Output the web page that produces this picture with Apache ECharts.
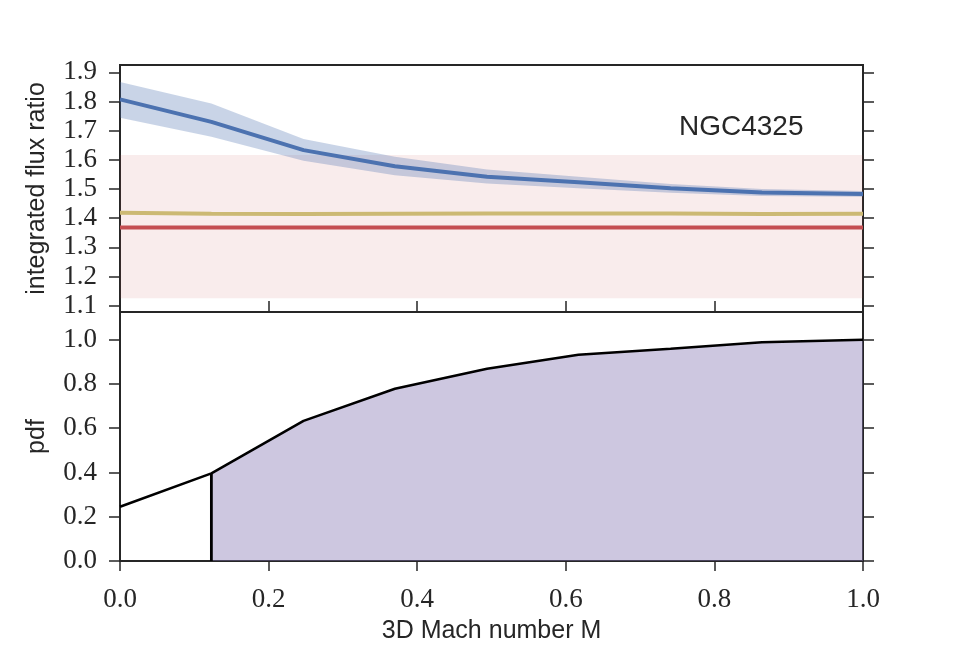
<!DOCTYPE html>
<html>
<head>
    <meta charset="utf-8">
    <title>NGC4325 flux ratio vs Mach number</title>
    <script type="text/javascript" src="https://cdn.jsdelivr.net/npm/echarts@6/dist/echarts.min.js"></script>
    <style>
        html, body { margin: 0; padding: 0; background: #fff; }
    </style>
</head>
<body>
<div id="chartmain" style="width:960px; height:660px;"></div>

<script type="text/javascript">
    // Mach number samples (x) shared by both panels
    var machX = [0, 0.123, 0.247, 0.370, 0.494, 0.617, 0.741, 0.864, 1.0];

    // top panel: model flux ratio with its spread
    var ratioMid = [1.807, 1.730, 1.633, 1.578, 1.542, 1.523, 1.502, 1.488, 1.483];
    var ratioLo  = [1.744, 1.679, 1.597, 1.547, 1.519, 1.502, 1.487, 1.476, 1.473];
    var ratioHi  = [1.867, 1.793, 1.671, 1.610, 1.567, 1.542, 1.517, 1.500, 1.493];
    var ratioAlt = [1.418, 1.415, 1.414, 1.415, 1.416, 1.416, 1.416, 1.414, 1.415];

    // observed ratio and its uncertainty
    var obsX    = [0, 1.0];
    var obsLine = [1.368, 1.368];
    var obsLow  = 1.125;
    var obsHigh = 1.616;

    // bottom panel: pdf
    var pdf = [0.245, 0.396, 0.633, 0.778, 0.869, 0.932, 0.959, 0.988, 1.0];
    var cutIndex = 1;

    // tick labels
    var machTicks  = [0, 0.2, 0.4, 0.6, 0.8, 1.0];
    var ratioTicks = [1.1, 1.2, 1.3, 1.4, 1.5, 1.6, 1.7, 1.8, 1.9];
    var pdfTicks   = [0, 0.2, 0.4, 0.6, 0.8, 1.0];

    var ink = '#262626';
    var serif = 'Liberation Serif';
    var sans = 'Liberation Sans';

    function pairs(xs, ys) {
        return xs.map(function (x, i) { return [x, ys[i]]; });
    }

    var fmt = function (v) { return Number(v).toFixed(1); };

    function yAxisCfg(grid, min, max, ticks, side, name) {
        var a = {
            gridIndex: grid, type: 'value', min: min, max: max, position: side,
            axisLine: {show: true, onZero: false, lineStyle: {color: ink, width: 2}},
            axisTick: {show: true, length: 11, customValues: ticks, lineStyle: {color: ink, width: 1.5}},
            axisLabel: {show: side === 'left', customValues: ticks, formatter: fmt,
                fontFamily: serif, fontSize: 27, color: ink, margin: 23},
            splitLine: {show: false}
        };
        if (name) {
            a.name = name;
            a.nameLocation = 'middle';
            a.nameGap = 70;
            a.nameTextStyle = {fontFamily: sans, fontSize: 25, color: ink};
        }
        return a;
    }

    var option = {
        animation: false,
        backgroundColor: '#fff',
        grid: [
            {left: 120, right: 97, top: 65, height: 247, show: true, borderColor: ink, borderWidth: 2, backgroundColor: 'transparent'},
            {left: 120, right: 97, top: 312, height: 249, show: true, borderColor: ink, borderWidth: 2, backgroundColor: 'transparent'}
        ],
        xAxis: [
            {
                gridIndex: 0, type: 'value', min: 0, max: 1, position: 'bottom',
                axisLine: {show: true, onZero: false, lineStyle: {color: ink, width: 2}},
                axisTick: {show: true, inside: true, length: 11, customValues: machTicks, lineStyle: {color: ink, width: 1.5}},
                axisLabel: {show: false},
                splitLine: {show: false}
            },
            {
                gridIndex: 1, type: 'value', min: 0, max: 1, position: 'bottom',
                axisLine: {show: true, onZero: false, lineStyle: {color: ink, width: 2}},
                axisTick: {show: true, length: 10, customValues: machTicks, lineStyle: {color: ink, width: 1.5}},
                axisLabel: {customValues: machTicks, formatter: fmt, fontFamily: serif, fontSize: 27, color: ink, margin: 25},
                splitLine: {show: false},
                name: '3D Mach number M', nameLocation: 'middle', nameGap: 58,
                nameTextStyle: {fontFamily: sans, fontSize: 25, color: ink}
            }
        ],
        yAxis: [
            yAxisCfg(0, 1.078, 1.925, ratioTicks, 'left', 'integrated flux ratio'),
            yAxisCfg(0, 1.078, 1.925, ratioTicks, 'right'),
            yAxisCfg(1, 0, 1.125, pdfTicks, 'left', 'pdf'),
            yAxisCfg(1, 0, 1.125, pdfTicks, 'right')
        ],
        graphic: [{
            type: 'text', left: 679, top: 113,
            style: {text: 'NGC4325', font: '28px "Liberation Sans"', fill: ink}
        }],
        series: [
            {
                // observed uncertainty band
                type: 'line', xAxisIndex: 0, yAxisIndex: 0, z: 1,
                data: [], symbol: 'none',
                markArea: {
                    silent: true,
                    itemStyle: {color: 'rgba(196,78,82,0.11)'},
                    data: [[{coord: [obsX[0], obsLow]}, {coord: [obsX[1], obsHigh]}]]
                }
            },
            {
                // model spread band
                type: 'custom', xAxisIndex: 0, yAxisIndex: 0, z: 2,
                data: [[machX[0], ratioMid[0]]],
                renderItem: function (params, api) {
                    var upper = machX.map(function (x, i) { return api.coord([x, ratioHi[i]]); });
                    var lower = machX.map(function (x, i) { return api.coord([x, ratioLo[i]]); }).reverse();
                    return {
                        type: 'polygon',
                        shape: {points: upper.concat(lower)},
                        style: {fill: 'rgba(76,114,176,0.3)', stroke: null}
                    };
                }
            },
            {
                type: 'line', xAxisIndex: 0, yAxisIndex: 0, z: 3,
                data: pairs(machX, ratioAlt), symbol: 'none',
                lineStyle: {color: '#ccb974', width: 4}
            },
            {
                type: 'line', xAxisIndex: 0, yAxisIndex: 0, z: 3,
                data: pairs(obsX, obsLine), symbol: 'none',
                lineStyle: {color: '#c44e52', width: 4}
            },
            {
                type: 'line', xAxisIndex: 0, yAxisIndex: 0, z: 4,
                data: pairs(machX, ratioMid), symbol: 'none',
                lineStyle: {color: '#4c72b0', width: 4}
            },
            {
                // shaded part of the pdf
                type: 'line', xAxisIndex: 1, yAxisIndex: 2, z: 2,
                data: pairs(machX.slice(cutIndex), pdf.slice(cutIndex)), symbol: 'none',
                lineStyle: {width: 0},
                areaStyle: {color: 'rgba(129,114,178,0.4)', opacity: 1}
            },
            {
                type: 'line', xAxisIndex: 1, yAxisIndex: 2, z: 3,
                data: pairs(machX, pdf), symbol: 'none',
                lineStyle: {color: '#000', width: 2.5}
            },
            {
                type: 'line', xAxisIndex: 1, yAxisIndex: 2, z: 3,
                data: [[machX[cutIndex], 0], [machX[cutIndex], pdf[cutIndex]]], symbol: 'none',
                lineStyle: {color: '#000', width: 2.8}
            }
        ]
    };

    var myChart = echarts.init(document.getElementById('chartmain'));
    myChart.setOption(option);
</script>
</body>
</html>
